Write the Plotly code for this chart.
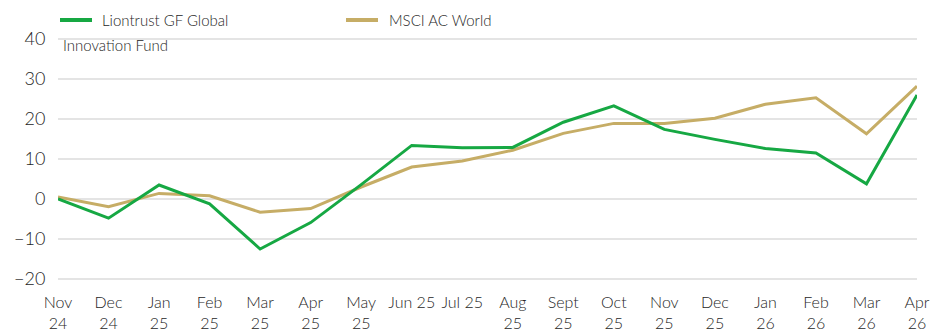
import plotly.graph_objects as go

# Monthly cumulative performance (%)
months = ["Nov 24", "Dec 24", "Jan 25", "Feb 25", "Mar 25", "Apr 25", "May 25",
          "Jun 25", "Jul 25", "Aug 25", "Sep 25", "Oct 25", "Nov 25", "Dec 25",
          "Jan 26", "Feb 26", "Mar 26", "Apr 26"]
tick_labels = ["Nov<br>24", "Dec<br>24", "Jan<br>25", "Feb<br>25", "Mar<br>25",
               "Apr<br>25", "May<br>25", "Jun 25", "Jul 25", "Aug<br>25",
               "Sept<br>25", "Oct<br>25", "Nov<br>25", "Dec<br>25", "Jan<br>26",
               "Feb<br>26", "Mar<br>26", "Apr<br>26"]
fund = [0.0, -4.8, 3.5, -1.2, -12.5, -5.9, 3.6, 13.4, 12.8, 12.9, 19.2, 23.3,
        17.4, 14.9, 12.6, 11.5, 3.8, 26.0]
index = [0.5, -1.9, 1.4, 0.8, -3.3, -2.4, 3.0, 8.0, 9.5, 12.2, 16.4, 18.9,
         18.9, 20.2, 23.7, 25.3, 16.3, 28.2]
y_ticks = [-20, -10, 0, 10, 20, 30, 40]

GREEN = "#16a843"
GOLD = "#c6ad66"
TEXT = "#262626"
FONT = "Lato"

fig = go.Figure()
fig.add_trace(go.Scatter(x=months, y=index, mode="lines", name="MSCI AC World",
                         line=dict(color=GOLD, width=3), showlegend=False))
fig.add_trace(go.Scatter(x=months, y=fund, mode="lines",
                         name="Liontrust GF Global Innovation Fund",
                         line=dict(color=GREEN, width=3), showlegend=False))

W, H = 939, 333
ml, mr, mt, mb = 58, 22, 37, 52
pw, ph = W - ml - mr, H - mt - mb


def px(x):
    return (x - ml) / pw


def py(y):
    return 1 - (y - mt) / ph


# Legend keys
for x0, x1, col in [(60, 92, GREEN), (346, 378, GOLD)]:
    fig.add_shape(type="line", xref="paper", yref="paper",
                  x0=px(x0), x1=px(x1), y0=py(20), y1=py(20),
                  line=dict(color=col, width=4))

legend_text = [
    (100, 20, "Liontrust GF Global"),
    (61, 45, "Innovation Fund"),
    (387, 20, "MSCI AC World"),
]
for x, y, t in legend_text:
    fig.add_annotation(xref="paper", yref="paper", x=px(x), y=py(y), text=t,
                       showarrow=False, xanchor="left", yanchor="middle",
                       font=dict(family=FONT, size=15, color=TEXT, weight=300))

fig.update_layout(
    width=W, height=H,
    margin=dict(l=ml, r=mr, t=mt, b=mb),
    paper_bgcolor="white", plot_bgcolor="white",
    font=dict(family=FONT, size=16, color=TEXT, weight=300),
    showlegend=False,
)
fig.update_xaxes(type="category", range=[0, len(months) - 1],
                 tickmode="array", tickvals=months, ticktext=tick_labels,
                 tickangle=0, showgrid=False, showline=False, zeroline=False,
                 ticks="", ticklabelstandoff=10, automargin=False,
                 tickfont=dict(size=16, color=TEXT, weight=300))
fig.update_yaxes(range=[-20.5, 40.5], tickvals=y_ticks, showgrid=True,
                 gridcolor="#e4e4e4", gridwidth=1.5, zeroline=True,
                 zerolinecolor="#e4e4e4", zerolinewidth=1.5, showline=False,
                 ticks="outside", ticklen=8, tickcolor="rgba(0,0,0,0)",
                 automargin=False,
                 tickfont=dict(size=18, color=TEXT, weight=300))

fig.write_html("out.html")
